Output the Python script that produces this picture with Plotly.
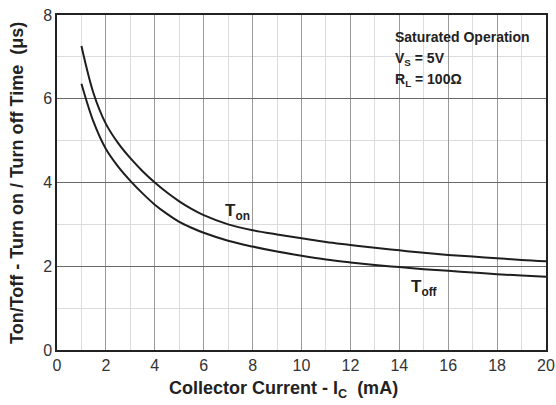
import plotly.graph_objects as go

ic = [1, 1.5, 2, 2.5, 3, 3.5, 4, 4.5, 5, 5.5, 6, 7, 8, 9, 10, 11, 12, 13, 14, 15, 16, 17, 18, 19, 20]
t_on = [7.26, 6.12, 5.40, 4.94, 4.58, 4.27, 4.00, 3.76, 3.55, 3.37, 3.22,
        3.00, 2.86, 2.76, 2.67, 2.58, 2.51, 2.44, 2.38, 2.32, 2.27, 2.23, 2.19, 2.15, 2.12]
t_off = [6.36, 5.44, 4.80, 4.38, 4.04, 3.74, 3.47, 3.25, 3.06, 2.92, 2.80,
         2.61, 2.47, 2.35, 2.25, 2.16, 2.09, 2.03, 1.98, 1.93, 1.89, 1.85, 1.81, 1.78, 1.75]

x_ticks = list(range(0, 21, 2))
y_ticks = [0, 2, 4, 6, 8]

FONT = "Liberation Sans, Arial, sans-serif"
LINE = "#1e1e1e"
TXT = "#222"

fig = go.Figure()
fig.add_trace(go.Scatter(x=ic, y=t_on, mode="lines", line=dict(color=LINE, width=2, shape="spline", smoothing=1), name="Ton"))
fig.add_trace(go.Scatter(x=ic, y=t_off, mode="lines", line=dict(color=LINE, width=2, shape="spline", smoothing=1), name="Toff"))

fig.update_layout(
    width=556, height=405,
    margin=dict(l=57, r=10, t=15, b=55, autoexpand=False),
    plot_bgcolor="white", paper_bgcolor="white",
    showlegend=False,
    font=dict(family=FONT, color=TXT),
)
fig.update_xaxes(
    range=[0, 20], tickvals=x_ticks, ticks="", showline=True, linecolor="#222", linewidth=1.5, mirror=True,
    showgrid=True, gridcolor="#9a9a9a", gridwidth=1,
    minor=dict(dtick=1, showgrid=True, gridcolor="#dcdcdc", gridwidth=1),
    tickfont=dict(size=16, color="#333"), zeroline=False, automargin=False,
)
fig.update_yaxes(
    range=[0, 8], tickvals=y_ticks, ticks="", showline=True, linecolor="#222", linewidth=1.5, mirror=True,
    showgrid=True, gridcolor="#6a6a6a", gridwidth=1,
    minor=dict(dtick=1, showgrid=True, gridcolor="#dcdcdc", gridwidth=1),
    tickfont=dict(size=16, color="#333"), zeroline=False, automargin=False,
)

# axis titles
fig.add_annotation(xref="paper", yref="paper", x=(283 - 57) / 489, y=(350 - 390) / 335,
                   text="<b>Collector Current - I<sub>C</sub>  (mA)</b>", showarrow=False,
                   xanchor="center", yanchor="middle", font=dict(size=18, color=TXT))
fig.add_annotation(xref="paper", yref="paper", x=(17 - 57) / 489, y=(350 - 183) / 335,
                   text="<b>Ton/Toff - Turn on / Turn off Time  (μs)</b>", showarrow=False, textangle=-90,
                   xanchor="center", yanchor="middle", font=dict(size=18, color=TXT))

fig.add_annotation(x=7.4, y=3.29, text="<b>T<sub>on</sub></b>", showarrow=False, font=dict(size=17, color=TXT))
fig.add_annotation(x=15.0, y=1.48, text="<b>T<sub>off</sub></b>", showarrow=False, font=dict(size=17, color=TXT))
for yy, txt in [(7.47, "<b>Saturated Operation</b>"), (6.95, "<b>V<sub>S</sub> = 5V</b>"), (6.45, "<b>R<sub>L</sub> = 100Ω</b>")]:
    fig.add_annotation(x=13.76, y=yy, text=txt, showarrow=False, xanchor="left", font=dict(size=14, color=TXT))

fig.write_html("out.html", config={"displayModeBar": False},
               post_script="document.body.style.margin='0';document.body.style.overflow='hidden';")
